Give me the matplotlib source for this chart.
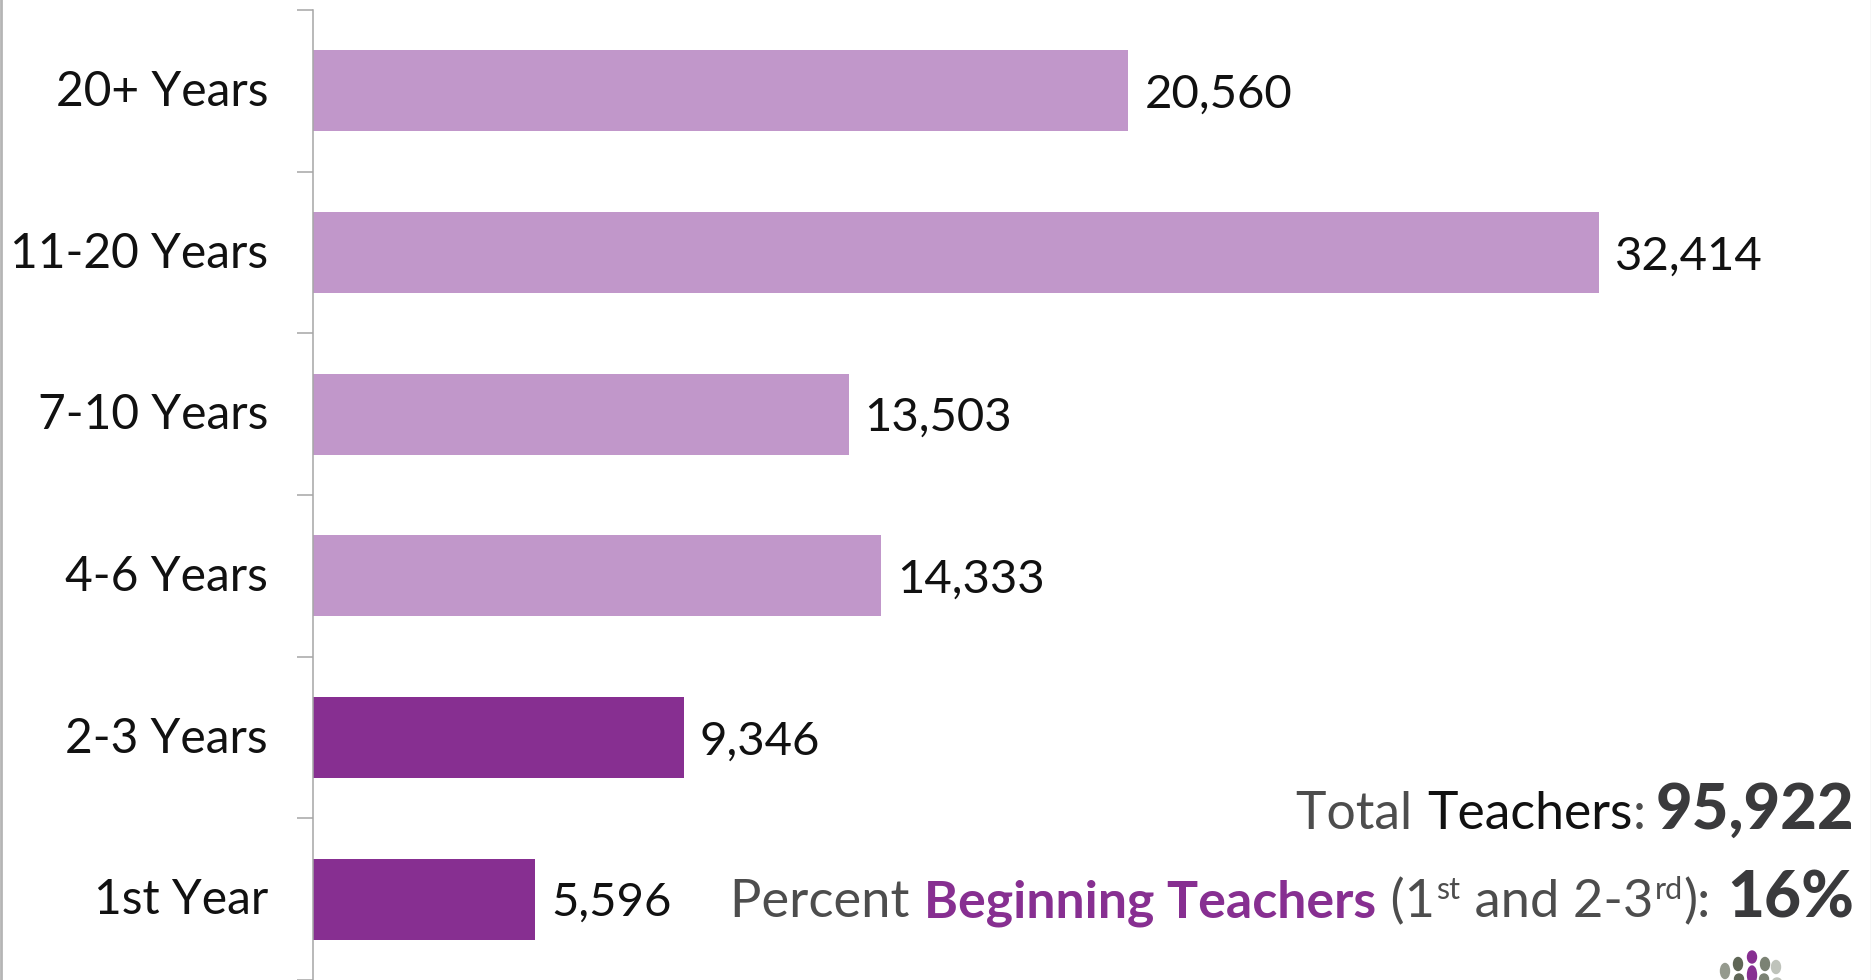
import matplotlib.pyplot as plt
from matplotlib.patches import Ellipse

categories = ["1st Year", "2-3 Years", "4-6 Years", "7-10 Years", "11-20 Years", "20+ Years"]
teachers = [5596, 9346, 14333, 13503, 32414, 20560]
value_labels = ["5,596", "9,346", "14,333", "13,503", "32,414", "20,560"]
bar_colors = ["#872f91", "#872f91", "#c197ca", "#c197ca", "#c197ca", "#c197ca"]

plt.rcParams['font.family'] = ['Lato', 'DejaVu Sans']

W, H = 1871, 980
fig = plt.figure(figsize=(W / 100, H / 100), dpi=100)

# eixo em pixels: x=313, marcas de 10 a 980
ax = fig.add_axes([313 / W, 0, (W - 313) / W, 970 / H])
ax.barh(range(6), teachers, height=0.5, color=bar_colors)
ax.set_ylim(-0.5, 5.5)
ax.set_xlim(0, (W - 313) / 0.03966)

ax.set_yticks([i - 0.5 for i in range(7)])
ax.set_yticklabels([])
ax.tick_params(axis='y', length=11.5, width=1.1, color="#a6a6a6")
ax.set_xticks([])
for s in ["top", "right", "bottom"]:
    ax.spines[s].set_visible(False)
ax.spines["left"].set_color("#a6a6a6")
ax.spines["left"].set_linewidth(1.1)

for i in range(6):
    ax.annotate(categories[i], (0, i), xytext=(-45, -1), textcoords='offset pixels',
                ha='right', va='center', fontsize=34.5, color="#111111")
    ax.annotate(value_labels[i], (teachers[i], i), xytext=(16, -4), textcoords='offset pixels',
                ha='left', va='center', fontsize=34, color="#111111")

# bordas laterais do slide
fig.add_artist(plt.Line2D([0.5 / W, 0.5 / W], [0, 1], color="#b5b5b5", lw=2))
fig.add_artist(plt.Line2D([1 - 0.5 / W, 1 - 0.5 / W], [0, 1], color="#d9d9d9", lw=1))

# texto com partes diferentes, montado da direita para a esquerda
fig.canvas.draw()
renderer = fig.canvas.get_renderer()


def right_run(parts, x, y):
    for txt, size, weight, color, rise, gap in reversed(parts):
        t = fig.text(x / W, 1 - (y - rise) / H, txt, fontsize=size, fontweight=weight,
                     color=color, ha='right', va='baseline')
        x = t.get_window_extent(renderer).x0 - gap


grey = "#4d4d4d"
right_run([("Total ", 37.3, 'normal', grey, 0, 1),
           ("Teachers", 37.3, 'normal', "#111111", 0, 1),
           (":", 37.3, 'normal', grey, 0, 1),
           ("95,922", 45.5, 'black', "#3a3a3c", 0, 9)], 1854, 829)
right_run([("Percent ", 37.8, 'normal', grey, 0, 1),
           ("Beginning Teachers", 37.4, 'bold', "#872f91", 0, 1),
           (" (1", 37.8, 'normal', grey, 0, 1),
           ("st", 22, 'normal', grey, 18, 1),
           (" and 2-3", 37.8, 'normal', grey, 0, 1),
           ("rd", 22, 'normal', grey, 18, 1),
           ("):", 37.8, 'normal', grey, 0, 1),
           ("16%", 46, 'black', "#3a3a3c", 0, 16)], 1854, 917)

# pedaço do logotipo no canto
logo_x = [1725, 1738, 1752, 1752, 1765, 1776, 1739, 1764, 1777]
logo_y = [971, 964, 957, 975, 964, 967, 979, 979, 982]
logo_h = [15, 13, 12, 18, 13, 13, 10, 10, 8]
logo_c = ["#959a8e", "#5f6656", "#872f91", "#872f91", "#7b8274", "#bfc3bb", "#5f6656", "#7b8274", "#bfc3bb"]
for x, y, h, c in zip(logo_x, logo_y, logo_h, logo_c):
    fig.add_artist(Ellipse((x / W, 1 - y / H), 9 / W, h / H, color=c, transform=fig.transFigure))

fig.savefig("out.png", dpi=100)
